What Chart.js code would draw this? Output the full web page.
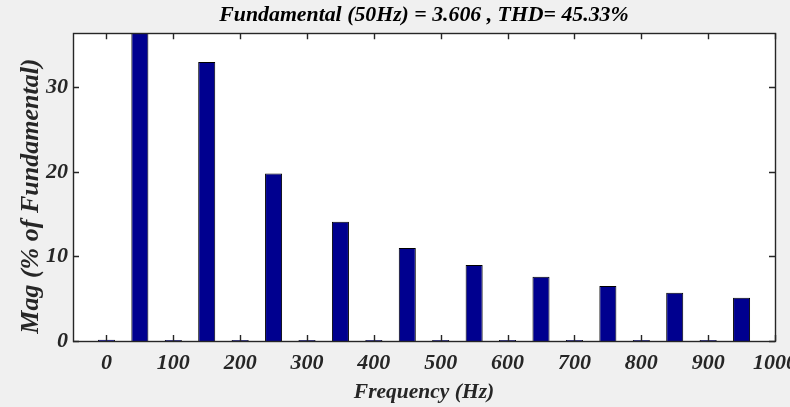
<!DOCTYPE html>
<html>
<head>
<meta charset="utf-8">
<title>FFT analysis</title>
<script src="https://cdn.jsdelivr.net/npm/chart.js@4.4.1/dist/chart.umd.min.js"></script>
<style>
  html, body { margin: 0; padding: 0; background: #f0f0f0; }
  #wrap { width: 790px; height: 407px; }
</style>
</head>
<body>
<div id="wrap"><canvas id="fft"></canvas></div>
<script>
// harmonic bins (Hz) and magnitude in % of fundamental
const freqs = [0, 50, 100, 150, 200, 250, 300, 350, 400, 450, 500, 550, 600, 650, 700, 750, 800, 850, 900, 950];
const mags  = [0.15, 100, 0.12, 33.0, 0.12, 19.8, 0.12, 14.1, 0.12, 11.0, 0.12, 9.0, 0.12, 7.6, 0.12, 6.5, 0.12, 5.7, 0.12, 5.1];

const xMin = -50, xMax = 1000, xStep = 100;
const yMin = 0, yMax = 36.4, yStep = 10;

const titleText = 'Fundamental (50Hz) = 3.606 , THD= 45.33%';
const xTitle = 'Frequency (Hz)';
const yTitle = 'Mag (% of Fundamental)';

const ink = '#262626';
const family = '"Liberation Serif", "Times New Roman", serif';
const font = (size) => ({ family: family, size: size, style: 'italic', weight: 'bold' });

// grey figure, white axes, box with inward ticks on all sides
const matlabAxes = {
    id: 'matlabAxes',
    beforeDraw(chart) {
        const { ctx, chartArea: a } = chart;
        ctx.save();
        ctx.fillStyle = '#f0f0f0';
        ctx.fillRect(0, 0, chart.width, chart.height);
        ctx.fillStyle = '#ffffff';
        ctx.fillRect(a.left, a.top, a.right - a.left, a.bottom - a.top);
        ctx.restore();
    },
    afterDatasetsDraw(chart) {
        const { ctx, chartArea: a, scales } = chart;
        const len = 6;
        ctx.save();
        ctx.strokeStyle = ink;
        ctx.lineWidth = 1.4;
        ctx.beginPath();
        scales.x.ticks.forEach(t => {
            const px = Math.round(scales.x.getPixelForValue(t.value)) + 0.5;
            ctx.moveTo(px, a.bottom); ctx.lineTo(px, a.bottom - len);
            ctx.moveTo(px, a.top); ctx.lineTo(px, a.top + len);
        });
        scales.y.ticks.forEach(t => {
            const py = Math.round(scales.y.getPixelForValue(t.value)) + 0.5;
            ctx.moveTo(a.left, py); ctx.lineTo(a.left + len, py);
            ctx.moveTo(a.right, py); ctx.lineTo(a.right - len, py);
        });
        ctx.stroke();
        ctx.strokeRect(Math.round(a.left) + 0.5, Math.round(a.top) + 0.5, Math.round(a.right - a.left), Math.round(a.bottom - a.top));

        // y label, sits a bit below the axes centre like the original
        ctx.translate(31, (a.top + a.bottom) / 2 + 9);
        ctx.rotate(-Math.PI / 2);
        ctx.fillStyle = ink;
        ctx.font = 'italic bold 26px ' + family;
        ctx.textAlign = 'center';
        ctx.textBaseline = 'middle';
        ctx.fillText(yTitle, 0, 0);
        ctx.restore();
    }
};

new Chart(document.getElementById('fft'), {
    type: 'bar',
    data: {
        datasets: [{
            data: freqs.map((f, i) => ({ x: f, y: mags[i] })),
            backgroundColor: '#00008f',
            borderColor: '#000000',
            borderWidth: 1,
            categoryPercentage: 1,
            barPercentage: 0.51
        }]
    },
    options: {
        responsive: true,
        maintainAspectRatio: false,
        animation: false,
        devicePixelRatio: 1,
        layout: { padding: { left: 0, right: 15, top: 0, bottom: 0 } },
        plugins: {
            legend: { display: false },
            tooltip: { enabled: false },
            title: {
                display: true,
                text: titleText,
                color: '#000000',
                font: font(21.8),
                fullSize: false,
                padding: { top: 2, bottom: 5 }
            }
        },
        scales: {
            x: {
                type: 'linear',
                min: xMin,
                max: xMax,
                offset: false,
                grid: { display: false, drawTicks: false },
                border: { display: false },
                ticks: { stepSize: xStep, includeBounds: false, color: ink, font: font(22), padding: 9, maxRotation: 0,
                         callback: v => String(v) },
                title: { display: true, text: xTitle, color: ink, font: font(21.5), padding: { top: 0, bottom: 2 } },
                afterFit(s) { s.height = 66; s.paddingLeft = 0; s.paddingRight = 0; }
            },
            y: {
                min: yMin,
                max: yMax,
                grid: { display: false, drawTicks: false },
                border: { display: false },
                ticks: { stepSize: yStep, includeBounds: false, color: ink, font: font(22), padding: 5 },
                title: { display: false },
                afterFit(s) { s.width = 73; s.paddingTop = 0; s.paddingBottom = 0; }
            }
        }
    },
    plugins: [matlabAxes]
});
</script>
</body>
</html>
